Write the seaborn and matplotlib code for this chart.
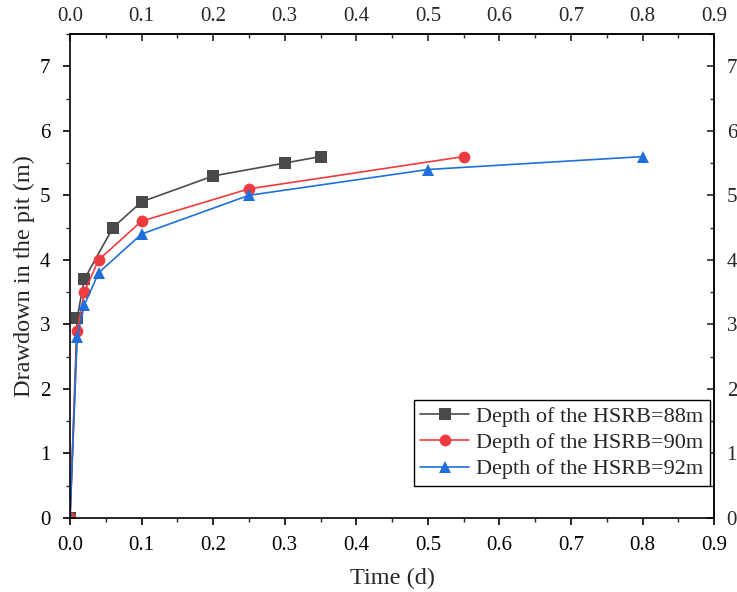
import matplotlib
matplotlib.use("Agg")
import matplotlib.pyplot as plt
import seaborn as sns
import pandas as pd
from matplotlib.ticker import MultipleLocator

# Drawdown in the pit over time for three depths of the HSRB
t_88 = [0.0, 0.01, 0.02, 0.06, 0.1, 0.2, 0.3, 0.35]
s_88 = [0.0, 3.1, 3.7, 4.5, 4.9, 5.3, 5.5, 5.6]

t_90 = [0.0, 0.01, 0.02, 0.04, 0.1, 0.25, 0.55]
s_90 = [0.0, 2.9, 3.5, 4.0, 4.6, 5.1, 5.6]

t_92 = [0.0, 0.01, 0.02, 0.04, 0.1, 0.25, 0.5, 0.8]
s_92 = [0.0, 2.8, 3.3, 3.8, 4.4, 5.0, 5.4, 5.6]

labels = ["Depth of the HSRB=88m", "Depth of the HSRB=90m", "Depth of the HSRB=92m"]
colors = ["#4a4a4a", "#ee3b3f", "#1f6fdc"]
markers = ["s", "o", "^"]

frames = []
for lab, t, s in zip(labels, [t_88, t_90, t_92], [s_88, s_90, s_92]):
    frames.append(pd.DataFrame({"Time": t, "Drawdown": s, "Series": lab}))
df = pd.concat(frames, ignore_index=True)

sns.set_theme(style="ticks")
plt.rcParams["font.family"] = ["Liberation Serif", "DejaVu Serif"]

fig = plt.figure(figsize=(7.37, 5.92), dpi=100)
ax = fig.add_axes([0.095, 0.125, 0.874, 0.8176])

sns.lineplot(
    data=df, x="Time", y="Drawdown", hue="Series", style="Series",
    hue_order=labels, style_order=labels,
    palette=dict(zip(labels, colors)),
    markers=dict(zip(labels, markers)), dashes=False,
    markersize=8.5, markeredgewidth=0, linewidth=1.2,
    sort=False, estimator=None, ax=ax, legend=False,
)

ax.set_xlim(0, 0.9)
ax.set_ylim(0, 7.5)
ax.xaxis.set_major_locator(MultipleLocator(0.1))
ax.xaxis.set_minor_locator(MultipleLocator(0.05))
ax.yaxis.set_major_locator(MultipleLocator(1))
ax.yaxis.set_minor_locator(MultipleLocator(0.5))
ax.xaxis.set_major_formatter(plt.FuncFormatter(lambda v, p: f"{v:.1f}"))
ax.yaxis.set_major_formatter(plt.FuncFormatter(lambda v, p: f"{v:.0f}"))

for sp in ax.spines.values():
    sp.set_linewidth(1.2)
    sp.set_color("black")

ax.tick_params(which="major", direction="out", length=5, width=1.2, labelsize=15, colors="black")
ax.tick_params(which="minor", direction="out", length=3, width=1.0)
ax.tick_params(axis="x", which="major", pad=8)
ax.tick_params(axis="y", which="major", pad=9)

ax.set_xlabel("Time (d)", fontsize=17.5, labelpad=9)
ax.set_ylabel("Drawdown in the pit (m)", fontsize=17.5, labelpad=4)

# Mirrored axes on top and right
top = ax.secondary_xaxis("top")
top.xaxis.set_major_locator(MultipleLocator(0.1))
top.xaxis.set_minor_locator(MultipleLocator(0.05))
top.xaxis.set_major_formatter(plt.FuncFormatter(lambda v, p: f"{v:.1f}"))
top.tick_params(which="major", direction="in", length=5, width=1.2, labelsize=15, pad=6)
top.tick_params(which="minor", direction="in", length=3, width=1.0)
top.spines["top"].set_linewidth(1.2)

right = ax.secondary_yaxis("right")
right.yaxis.set_major_locator(MultipleLocator(1))
right.yaxis.set_minor_locator(MultipleLocator(0.5))
right.yaxis.set_major_formatter(plt.FuncFormatter(lambda v, p: f"{v:.0f}"))
right.tick_params(which="major", direction="in", length=5, width=1.2, labelsize=15, pad=9)
right.tick_params(which="minor", direction="in", length=3, width=1.0)
right.spines["right"].set_linewidth(1.2)

handles = [
    plt.Line2D([], [], color=c, marker=m, markersize=8.5, markeredgewidth=0, linewidth=1.2)
    for c, m in zip(colors, markers)
]
leg = ax.legend(
    handles, labels, loc="lower right", bbox_to_anchor=(0.993, 0.066),
    fontsize=16, frameon=True, fancybox=False, framealpha=1,
    edgecolor="black", handlelength=2.2, handletextpad=0.3,
    borderpad=0.3, labelspacing=0.25, borderaxespad=0,
)
leg.get_frame().set_linewidth(1.0)

fig.savefig("out.png", dpi=100)
